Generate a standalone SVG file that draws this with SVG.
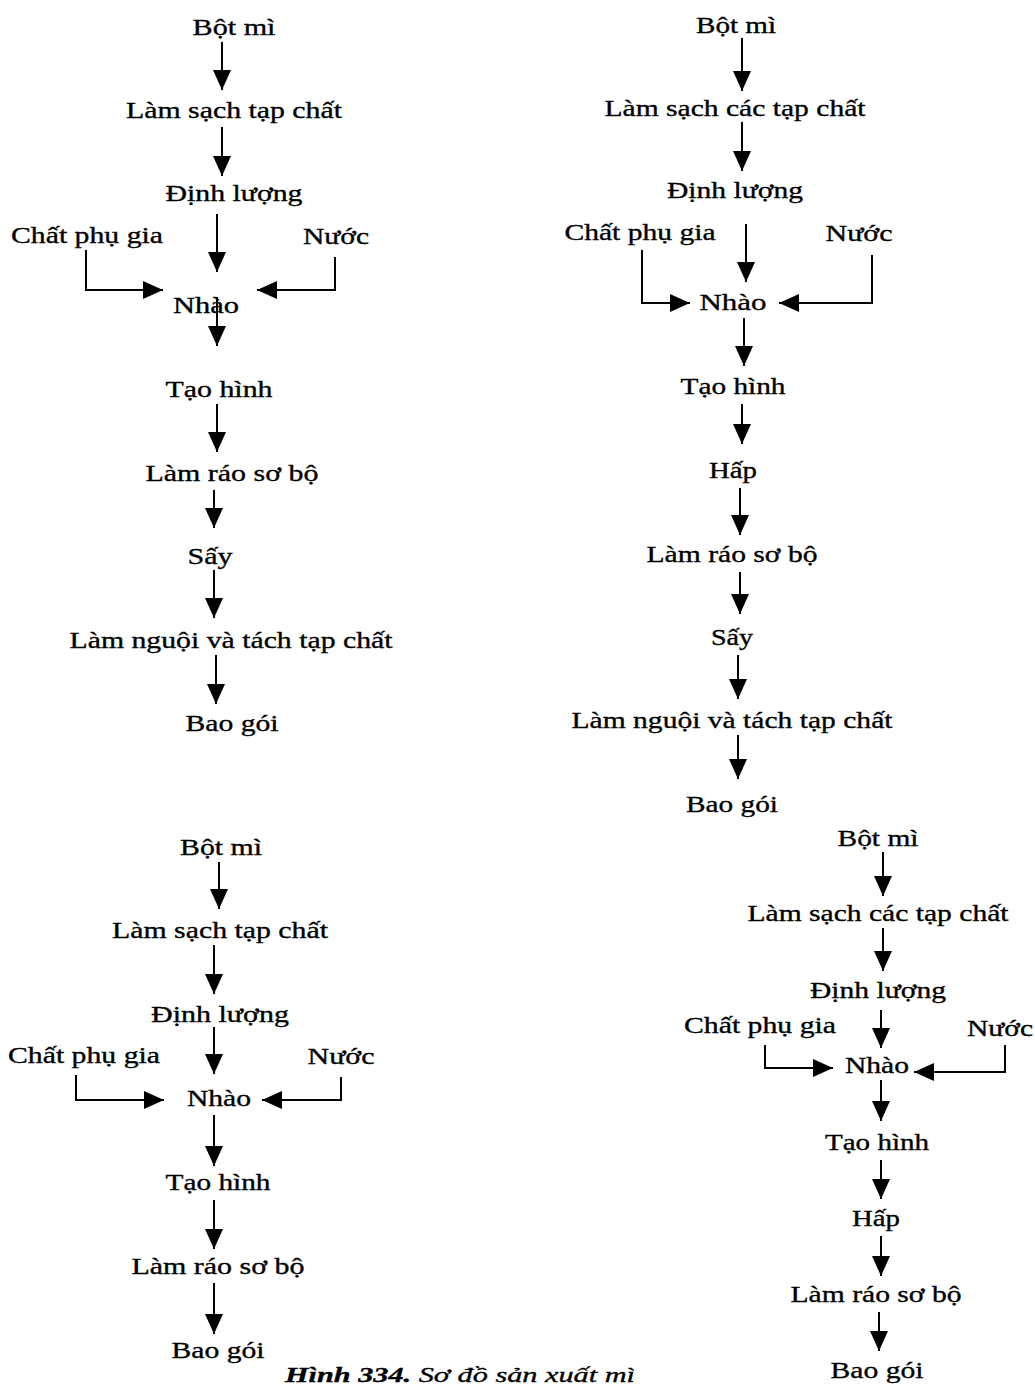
<svg xmlns="http://www.w3.org/2000/svg" width="1035" height="1385" viewBox="0 0 1035 1385">
<style>
text{font-family:"Liberation Serif","Times New Roman",serif;font-size:24px;fill:#000;stroke:#000;stroke-width:0.35;text-anchor:middle}
.c{fill:none;stroke:#000;stroke-width:2}
.cap{text-anchor:start;font-style:italic;font-size:22px}
</style>
<defs>
<marker id="ah" markerUnits="userSpaceOnUse" markerWidth="20" markerHeight="18" refX="20" refY="9" orient="auto" viewBox="0 0 20 18"><path d="M0,0 L20,9 L0,18 z" fill="#000"/></marker>
</defs>
<rect width="1035" height="1385" fill="#fff"/>
<g id="connectors">
<line class="c" x1="222" y1="42" x2="222" y2="90" marker-end="url(#ah)"/>
<line class="c" x1="222" y1="127" x2="222" y2="176" marker-end="url(#ah)"/>
<line class="c" x1="217" y1="214" x2="217" y2="272" marker-end="url(#ah)"/>
<line class="c" x1="217" y1="297" x2="217" y2="346" marker-end="url(#ah)"/>
<line class="c" x1="217" y1="404" x2="217" y2="452" marker-end="url(#ah)"/>
<line class="c" x1="214" y1="490" x2="214" y2="528" marker-end="url(#ah)"/>
<line class="c" x1="214" y1="570" x2="214" y2="618" marker-end="url(#ah)"/>
<line class="c" x1="216" y1="655" x2="216" y2="704" marker-end="url(#ah)"/>
<path class="c" d="M86,250 V290 H163" marker-end="url(#ah)"/>
<path class="c" d="M335,257 V290 H257" marker-end="url(#ah)"/>
<line class="c" x1="742" y1="38" x2="742" y2="91" marker-end="url(#ah)"/>
<line class="c" x1="742" y1="122" x2="742" y2="171" marker-end="url(#ah)"/>
<line class="c" x1="746" y1="224" x2="746" y2="282" marker-end="url(#ah)"/>
<line class="c" x1="744" y1="318" x2="744" y2="366" marker-end="url(#ah)"/>
<line class="c" x1="742" y1="404" x2="742" y2="444" marker-end="url(#ah)"/>
<line class="c" x1="740" y1="488" x2="740" y2="535" marker-end="url(#ah)"/>
<line class="c" x1="740" y1="572" x2="740" y2="614" marker-end="url(#ah)"/>
<line class="c" x1="738" y1="655" x2="738" y2="699" marker-end="url(#ah)"/>
<line class="c" x1="738" y1="735" x2="738" y2="779" marker-end="url(#ah)"/>
<path class="c" d="M642,250 V303 H690" marker-end="url(#ah)"/>
<path class="c" d="M872,255 V303 H779" marker-end="url(#ah)"/>
<line class="c" x1="219" y1="862" x2="219" y2="909" marker-end="url(#ah)"/>
<line class="c" x1="214" y1="945" x2="214" y2="994" marker-end="url(#ah)"/>
<line class="c" x1="214" y1="1027" x2="214" y2="1074" marker-end="url(#ah)"/>
<line class="c" x1="214" y1="1115" x2="214" y2="1166" marker-end="url(#ah)"/>
<line class="c" x1="214" y1="1200" x2="214" y2="1249" marker-end="url(#ah)"/>
<line class="c" x1="214" y1="1283" x2="214" y2="1334" marker-end="url(#ah)"/>
<path class="c" d="M76,1075 V1100 H164" marker-end="url(#ah)"/>
<path class="c" d="M341,1077 V1100 H262" marker-end="url(#ah)"/>
<line class="c" x1="883" y1="852" x2="883" y2="896" marker-end="url(#ah)"/>
<line class="c" x1="883" y1="928" x2="883" y2="971" marker-end="url(#ah)"/>
<line class="c" x1="881" y1="1010" x2="881" y2="1048" marker-end="url(#ah)"/>
<line class="c" x1="881" y1="1080" x2="881" y2="1121" marker-end="url(#ah)"/>
<line class="c" x1="881" y1="1160" x2="881" y2="1199" marker-end="url(#ah)"/>
<line class="c" x1="881" y1="1236" x2="881" y2="1276" marker-end="url(#ah)"/>
<line class="c" x1="879" y1="1312" x2="879" y2="1351" marker-end="url(#ah)"/>
<path class="c" d="M765,1045 V1068 H833" marker-end="url(#ah)"/>
<path class="c" d="M1005,1045 V1072 H914" marker-end="url(#ah)"/>
</g>
<g id="tl-botmi"><text x="234" y="35" textLength="83" lengthAdjust="spacingAndGlyphs">Bột mì</text></g>
<g id="tl-lamsach"><text x="234" y="118" textLength="216" lengthAdjust="spacingAndGlyphs">Làm sạch tạp chất</text></g>
<g id="tl-dinhluong"><text x="234" y="201" textLength="137" lengthAdjust="spacingAndGlyphs">Định lượng</text></g>
<g id="tl-phugia"><text x="87" y="243" textLength="152" lengthAdjust="spacingAndGlyphs">Chất phụ gia</text></g>
<g id="tl-nuoc"><text x="336" y="244" textLength="66" lengthAdjust="spacingAndGlyphs">Nước</text></g>
<g id="tl-nhao"><text x="206" y="313" textLength="66" lengthAdjust="spacingAndGlyphs">Nhào</text></g>
<g id="tl-taohinh"><text x="219" y="397" textLength="107" lengthAdjust="spacingAndGlyphs">Tạo hình</text></g>
<g id="tl-lamrao"><text x="232" y="481" textLength="173" lengthAdjust="spacingAndGlyphs">Làm ráo sơ bộ</text></g>
<g id="tl-say"><text x="210" y="564" textLength="45" lengthAdjust="spacingAndGlyphs">Sấy</text></g>
<g id="tl-lamnguoi"><text x="231" y="648" textLength="323" lengthAdjust="spacingAndGlyphs">Làm nguội và tách tạp chất</text></g>
<g id="tl-baogoi"><text x="232" y="731" textLength="93" lengthAdjust="spacingAndGlyphs">Bao gói</text></g>
<g id="tr-botmi"><text x="736" y="33" textLength="80" lengthAdjust="spacingAndGlyphs">Bột mì</text></g>
<g id="tr-lamsach"><text x="735" y="116" textLength="261" lengthAdjust="spacingAndGlyphs">Làm sạch các tạp chất</text></g>
<g id="tr-dinhluong"><text x="735" y="198" textLength="136" lengthAdjust="spacingAndGlyphs">Định lượng</text></g>
<g id="tr-phugia"><text x="640" y="240" textLength="151" lengthAdjust="spacingAndGlyphs">Chất phụ gia</text></g>
<g id="tr-nuoc"><text x="859" y="241" textLength="67" lengthAdjust="spacingAndGlyphs">Nước</text></g>
<g id="tr-nhao"><text x="733" y="310" textLength="67" lengthAdjust="spacingAndGlyphs">Nhào</text></g>
<g id="tr-taohinh"><text x="733" y="394" textLength="105" lengthAdjust="spacingAndGlyphs">Tạo hình</text></g>
<g id="tr-hap"><text x="733" y="478" textLength="48" lengthAdjust="spacingAndGlyphs">Hấp</text></g>
<g id="tr-lamrao"><text x="732" y="562" textLength="171" lengthAdjust="spacingAndGlyphs">Làm ráo sơ bộ</text></g>
<g id="tr-say"><text x="732" y="645" textLength="42" lengthAdjust="spacingAndGlyphs">Sấy</text></g>
<g id="tr-lamnguoi"><text x="732" y="728" textLength="321" lengthAdjust="spacingAndGlyphs">Làm nguội và tách tạp chất</text></g>
<g id="tr-baogoi"><text x="732" y="812" textLength="92" lengthAdjust="spacingAndGlyphs">Bao gói</text></g>
<g id="bl-botmi"><text x="221" y="855" textLength="82" lengthAdjust="spacingAndGlyphs">Bột mì</text></g>
<g id="bl-lamsach"><text x="220" y="938" textLength="216" lengthAdjust="spacingAndGlyphs">Làm sạch tạp chất</text></g>
<g id="bl-dinhluong"><text x="220" y="1022" textLength="138" lengthAdjust="spacingAndGlyphs">Định lượng</text></g>
<g id="bl-phugia"><text x="84" y="1063" textLength="152" lengthAdjust="spacingAndGlyphs">Chất phụ gia</text></g>
<g id="bl-nuoc"><text x="341" y="1064" textLength="67" lengthAdjust="spacingAndGlyphs">Nước</text></g>
<g id="bl-nhao"><text x="219" y="1106" textLength="64" lengthAdjust="spacingAndGlyphs">Nhào</text></g>
<g id="bl-taohinh"><text x="218" y="1190" textLength="105" lengthAdjust="spacingAndGlyphs">Tạo hình</text></g>
<g id="bl-lamrao"><text x="218" y="1274" textLength="173" lengthAdjust="spacingAndGlyphs">Làm ráo sơ bộ</text></g>
<g id="bl-baogoi"><text x="218" y="1358" textLength="93" lengthAdjust="spacingAndGlyphs">Bao gói</text></g>
<g id="br-botmi"><text x="878" y="846" textLength="81" lengthAdjust="spacingAndGlyphs">Bột mì</text></g>
<g id="br-lamsach"><text x="878" y="921" textLength="261" lengthAdjust="spacingAndGlyphs">Làm sạch các tạp chất</text></g>
<g id="br-dinhluong"><text x="878" y="998" textLength="136" lengthAdjust="spacingAndGlyphs">Định lượng</text></g>
<g id="br-phugia"><text x="760" y="1033" textLength="152" lengthAdjust="spacingAndGlyphs">Chất phụ gia</text></g>
<g id="br-nuoc"><text x="1000" y="1036" textLength="66" lengthAdjust="spacingAndGlyphs">Nước</text></g>
<g id="br-nhao"><text x="877" y="1073" textLength="64" lengthAdjust="spacingAndGlyphs">Nhào</text></g>
<g id="br-taohinh"><text x="877" y="1150" textLength="104" lengthAdjust="spacingAndGlyphs">Tạo hình</text></g>
<g id="br-hap"><text x="876" y="1226" textLength="48" lengthAdjust="spacingAndGlyphs">Hấp</text></g>
<g id="br-lamrao"><text x="876" y="1302" textLength="171" lengthAdjust="spacingAndGlyphs">Làm ráo sơ bộ</text></g>
<g id="br-baogoi"><text x="877" y="1378" textLength="93" lengthAdjust="spacingAndGlyphs">Bao gói</text></g>
<g id="caption"><text class="cap" x="285" y="1382" textLength="350" lengthAdjust="spacingAndGlyphs"><tspan font-weight="bold">Hình 334.</tspan> Sơ đồ sản xuất mì</text></g>
</svg>
